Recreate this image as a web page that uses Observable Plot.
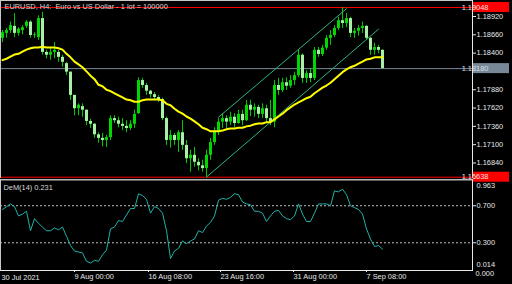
<!DOCTYPE html>
<html><head><meta charset="utf-8">
<script src="https://cdn.jsdelivr.net/npm/d3@7"></script>
<script src="https://cdn.jsdelivr.net/npm/@observablehq/plot@0.6"></script>
<style>
html,body{margin:0;padding:0;background:#000;}
#chart{position:relative;width:512px;height:284px;overflow:hidden;background:#000;}
#top{position:absolute;left:0;top:0;z-index:2;}
#bot{position:absolute;left:0;top:179px;z-index:1;}
svg{overflow:visible;}
</style></head><body>
<div id="chart"><div id="top"></div><div id="bot"></div></div>
<script>
// ---- data (H4 EURUSD, one candle per 4px slot) ----
const opens = [1.1861,1.1868,1.1872,1.1878,1.1868,1.1872,1.1878,1.1884,1.1865,1.1862,
1.1889,1.1841,1.1837,1.1841,1.1841,1.1834,1.1825,1.1813,1.1780,1.1761,
1.1764,1.1759,1.1743,1.1739,1.1724,1.1719,1.1716,1.1720,1.1747,1.1744,
1.1739,1.1736,1.1733,1.1739,1.1754,1.1801,1.1794,1.1786,1.1781,1.1777,
1.1774,1.1747,1.1716,1.1723,1.1716,1.1727,1.1709,1.1690,1.1695,1.1685,
1.1680,1.1676,1.1695,1.1713,1.1729,1.1742,1.1747,1.1742,1.1749,1.1740,
1.1753,1.1744,1.1766,1.1759,1.1763,1.1753,1.1761,1.1747,1.1742,1.1794,
1.1787,1.1798,1.1793,1.1801,1.1808,1.1837,1.1804,1.1811,1.1804,1.1844,
1.1838,1.1847,1.1861,1.1865,1.1875,1.1886,1.1882,1.1889,1.1868,1.1871,
1.1875,1.1878,1.1861,1.1844,1.1848,1.1844];
const highs = [1.1872,1.1875,1.1884,1.1896,1.1876,1.1879,1.1886,1.1886,1.1869,1.1893,
1.1898,1.1844,1.1848,1.1855,1.1844,1.1837,1.1827,1.1813,1.1780,1.1768,
1.1768,1.1759,1.1746,1.1740,1.1727,1.1726,1.1723,1.1751,1.1751,1.1749,
1.1747,1.1744,1.1744,1.1759,1.1805,1.1804,1.1797,1.1787,1.1784,1.1780,
1.1776,1.1749,1.1730,1.1726,1.1730,1.1744,1.1716,1.1702,1.1706,1.1690,
1.1688,1.1702,1.1719,1.1734,1.1747,1.1754,1.1751,1.1756,1.1754,1.1759,
1.1759,1.1773,1.1773,1.1768,1.1766,1.1768,1.1766,1.1773,1.1801,1.1804,
1.1804,1.1805,1.1808,1.1813,1.1844,1.1839,1.1815,1.1818,1.1848,1.1848,
1.1851,1.1865,1.1872,1.1879,1.1891,1.19048,1.1896,1.1891,1.1875,1.1879,
1.1884,1.1879,1.1862,1.1854,1.1851,1.1845];
const lows = [1.1855,1.1861,1.1868,1.1862,1.1864,1.1866,1.1875,1.1861,1.1861,1.1858,
1.1837,1.1832,1.1830,1.1832,1.1827,1.1820,1.1808,1.1773,1.1751,1.1751,
1.1749,1.1737,1.1733,1.1719,1.1712,1.1707,1.1706,1.1716,1.1740,1.1734,
1.1730,1.1727,1.1730,1.1733,1.1753,1.1790,1.1780,1.1776,1.1773,1.1770,
1.1744,1.1709,1.1705,1.1709,1.1699,1.1702,1.1683,1.1671,1.1678,1.1673,
1.1671,1.16638,1.1688,1.1709,1.1723,1.1733,1.1733,1.1737,1.1734,1.1739,
1.1737,1.1743,1.1750,1.1749,1.1747,1.1747,1.1742,1.1737,1.1734,1.1780,
1.1784,1.1787,1.1790,1.1794,1.1805,1.1797,1.1797,1.1798,1.1801,1.1834,
1.1835,1.1844,1.1851,1.1862,1.1872,1.1875,1.1876,1.1862,1.1861,1.1864,
1.1868,1.1858,1.1837,1.1837,1.1839,1.1818];
const closes = [1.1869,1.1872,1.1879,1.1868,1.1874,1.1876,1.1884,1.1865,1.1866,1.1889,
1.1841,1.1837,1.1841,1.1844,1.1834,1.1827,1.1813,1.1780,1.1761,1.1766,
1.1759,1.1743,1.1739,1.1724,1.1719,1.1716,1.1720,1.1747,1.1744,1.1739,
1.1736,1.1733,1.1739,1.1753,1.1801,1.1794,1.1786,1.1781,1.1777,1.1774,
1.1747,1.1716,1.1723,1.1716,1.1727,1.1709,1.1690,1.1695,1.1685,1.1680,
1.1676,1.1695,1.1713,1.1729,1.1742,1.1747,1.1742,1.1749,1.1740,1.1753,
1.1744,1.1766,1.1759,1.1763,1.1753,1.1761,1.1747,1.1742,1.1794,1.1787,
1.1798,1.1793,1.1801,1.1808,1.1837,1.1804,1.1811,1.1804,1.1844,1.1838,
1.1847,1.1861,1.1865,1.1875,1.1886,1.1882,1.1889,1.1868,1.1871,1.1875,
1.1878,1.1861,1.1844,1.1848,1.1844,1.1818];
const maValues = [1.1830,1.1832,1.1835,1.1838,1.1839,1.1842,1.1845,1.1847,1.1848,1.1848,
1.1849,1.1848,1.1848,1.1848,1.1847,1.1845,1.1839,1.1834,1.1828,1.1824,
1.1820,1.1814,1.1808,1.1803,1.1795,1.1793,1.1788,1.1786,1.1783,1.1780,
1.1777,1.1774,1.1773,1.1771,1.1771,1.1773,1.1774,1.1774,1.1774,1.1774,
1.1773,1.1768,1.1766,1.1761,1.1757,1.1754,1.1750,1.1747,1.1743,1.1739,
1.1734,1.1732,1.1729,1.1729,1.1729,1.1730,1.1732,1.1733,1.1733,1.1734,
1.1734,1.1736,1.1737,1.1739,1.1740,1.1740,1.1742,1.1742,1.1746,1.1750,
1.1754,1.1759,1.1763,1.1767,1.1770,1.1773,1.1776,1.1778,1.1783,1.1787,
1.1791,1.1794,1.1798,1.1803,1.1808,1.1813,1.1817,1.1820,1.1822,1.1825,
1.1828,1.1831,1.1832,1.1834,1.1834,1.1834];
const demValues = [.66,.69,.72,.69,.59,.61,.64,.43,.56,.51,
.47,.43,.43,.46,.44,.47,.37,.27,.21,.20,
.19,.10,.08,.11,.10,.17,.22,.45,.47,.54,
.53,.60,.67,.67,.83,.81,.77,.62,.69,.67,
.62,.43,.13,.21,.24,.32,.29,.32,.34,.43,
.41,.48,.52,.59,.76,.78,.77,.79,.83,.82,
.74,.72,.71,.64,.64,.62,.53,.59,.64,.65,
.59,.56,.55,.59,.72,.61,.53,.53,.62,.72,
.72,.72,.70,.86,.85,.88,.82,.70,.68,.66,
.61,.45,.34,.26,.27,.231];
const channelLowerSlots = [51, 94], channelLowerPrices = [1.1664, 1.1874];
const channelUpperSlots = [54, 86], channelUpperPrices = [1.1749, 1.1903];
const priceTicks = [1.18920,1.18660,1.18400,1.18140,1.17880,1.17620,1.17360,1.17100,1.16840];
const highLine = 1.19048, lowLine = 1.16638, bidLine = 1.18180;
const demLevels = [0.7, 0.3];
const demMax = 0.963, demMin = 0.014, demLast = 0.231;
const dateSlots = [17.75, 36.25, 54.25, 72.5, 90.75];
const dateLabels = ["9 Aug 00:00","16 Aug 08:00","23 Aug 16:00","31 Aug 00:00","7 Sep 08:00"];
const firstDate = "30 Jul 2021";
const title = "EURUSD, H4:  Euro vs US Dollar - 1 lot = 100000";

// ---- build ----
const candles = opens.map((o,i)=>({i, o, h:highs[i], l:lows[i], c:closes[i]}));
const ma = maValues.map((v,i)=>({i, v}));
const dem = demValues.map((v,i)=>({i, v}));
const chLo = channelLowerSlots.map((s,k)=>({s, p:channelLowerPrices[k]}));
const chHi = channelUpperSlots.map((s,k)=>({s, p:channelUpperPrices[k]}));
const FONT = "Liberation Sans, Arial, sans-serif";
const FS = 7.4;
const xDom = [-0.5, 117.5];
// tick labels hidden under the bid box are not printed (the box covers them)
const hiddenUnderBox = v => Math.abs(v - bidLine) < 0.0007;

const topPlot = Plot.plot({
  width: 512, height: 179,
  marginLeft: 0, marginRight: 40, marginTop: 0, marginBottom: 2,
  style: {background: "#000", color: "#e8e8e8", fontFamily: FONT, fontSize: FS + "px", overflow: "visible"},
  x: {domain: xDom, axis: null, label: null},
  y: {domain: [1.16634, 1.19147], axis: null, label: null},
  marks: [
    Plot.ruleY([bidLine], {stroke: "#778899"}),
    Plot.ruleY([highLine, lowLine], {stroke: "#ff0000"}),
    Plot.ruleX(candles, {x: "i", y1: "l", y2: "h", stroke: "#00c800", strokeWidth: 1}),
    Plot.ruleX(candles.filter(d => d.c >= d.o), {x: "i", y1: "o", y2: "c", stroke: "#00d800", strokeWidth: 3}),
    Plot.ruleX(candles.filter(d => d.c < d.o), {x: "i", y1: "o", y2: "c", stroke: "#a8f0a8", strokeWidth: 3}),
    Plot.line(chLo, {x: "s", y: "p", stroke: "#2eb67d", strokeWidth: 1}),
    Plot.line(chHi, {x: "s", y: "p", stroke: "#2eb67d", strokeWidth: 1}),
    Plot.line(ma, {x: "i", y: "v", stroke: "#ffff00", strokeWidth: 2}),
    Plot.axisY(priceTicks, {anchor: "right", label: null, tickSize: 3, tickPadding: 1, tickFormat: d => hiddenUnderBox(d) ? "" : d.toFixed(5), fontSize: FS}),
    Plot.frame({anchor: "left", stroke: "#c8c8c8"}),
    Plot.frame({anchor: "top", stroke: "#c8c8c8"}),
    Plot.frame({anchor: "right", stroke: "#e8e8e8"}),
    Plot.text([title], {frameAnchor: "top-left", dx: 4, dy: 6, lineAnchor: "middle", textAnchor: "start", fill: "#d8d8d8", fontSize: FS})
  ]
});

// value boxes on the price axis
(function(){
  const ys = topPlot.scale("y");
  const svg = d3.select(topPlot);
  const boxes = [[highLine, "#ff0000", "#ffe0e0"], [bidLine, "#778899", "#d8e0e8"], [lowLine, "#ff0000", "#ffe0e0"]];
  for (const [v, bg, fg] of boxes) {
    const y = ys.apply(v);
    svg.append("rect").attr("x", 473).attr("y", y - 5).attr("width", 36).attr("height", 10).attr("fill", bg);
    svg.append("text").attr("x", 475).attr("y", y).attr("dy", "0.35em")
      .attr("fill", fg).attr("font-size", FS).attr("font-family", FONT).text(v.toFixed(5));
  }
})();
document.getElementById("top").appendChild(topPlot);

const botPlot = Plot.plot({
  width: 512, height: 105,
  marginLeft: 0, marginRight: 40, marginTop: 0, marginBottom: 14,
  style: {background: "#000", color: "#e8e8e8", fontFamily: FONT, fontSize: FS + "px", overflow: "visible"},
  x: {domain: xDom, axis: null, label: null},
  y: {domain: [0, 0.9838], axis: null, label: null},
  marks: [
    Plot.ruleY(demLevels, {stroke: "#c0c0c0", strokeDasharray: "2,2"}),
    Plot.line(dem, {x: "i", y: "v", stroke: "#20b2aa", strokeWidth: 1}),
    Plot.axisY(demLevels, {anchor: "right", label: null, tickSize: 3, tickPadding: 1, tickFormat: d => d.toFixed(3), fontSize: FS}),
    Plot.text([demMax], {y: d => d, text: d => d.toFixed(3), frameAnchor: "right", dx: 4, dy: 4, textAnchor: "start", fill: "#e8e8e8"}),
    Plot.text([demMin], {y: d => d, text: d => d.toFixed(3), frameAnchor: "right", dx: 4, dy: -5, textAnchor: "start", fill: "#e8e8e8"}),
    Plot.text([0], {y: d => d, text: d => d.toFixed(3), frameAnchor: "right", dx: 3, dy: 3, textAnchor: "start", fill: "#e8e8e8"}),
    Plot.axisX(dateSlots, {anchor: "bottom", label: null, tickSize: 2, tickPadding: 1, tickFormat: (d, i) => dateLabels[i], textAnchor: "start", dx: 1, fontSize: FS}),
    Plot.text([firstDate], {frameAnchor: "bottom-left", dx: 1, dy: 7, lineAnchor: "middle", textAnchor: "start", fill: "#e8e8e8"}),
    Plot.frame({anchor: "top", stroke: "#b8b8b8", strokeWidth: 2}),
    Plot.frame({anchor: "left", stroke: "#c8c8c8"}),
    Plot.frame({anchor: "right", stroke: "#e8e8e8"}),
    Plot.frame({anchor: "bottom", stroke: "#e8e8e8"}),
    Plot.text(["DeM(14) " + demLast.toFixed(3)], {frameAnchor: "top-left", dx: 3, dy: 8, lineAnchor: "middle", textAnchor: "start", fill: "#d8d8d8"})
  ]
});
document.getElementById("bot").appendChild(botPlot);
</script>
</body></html>
